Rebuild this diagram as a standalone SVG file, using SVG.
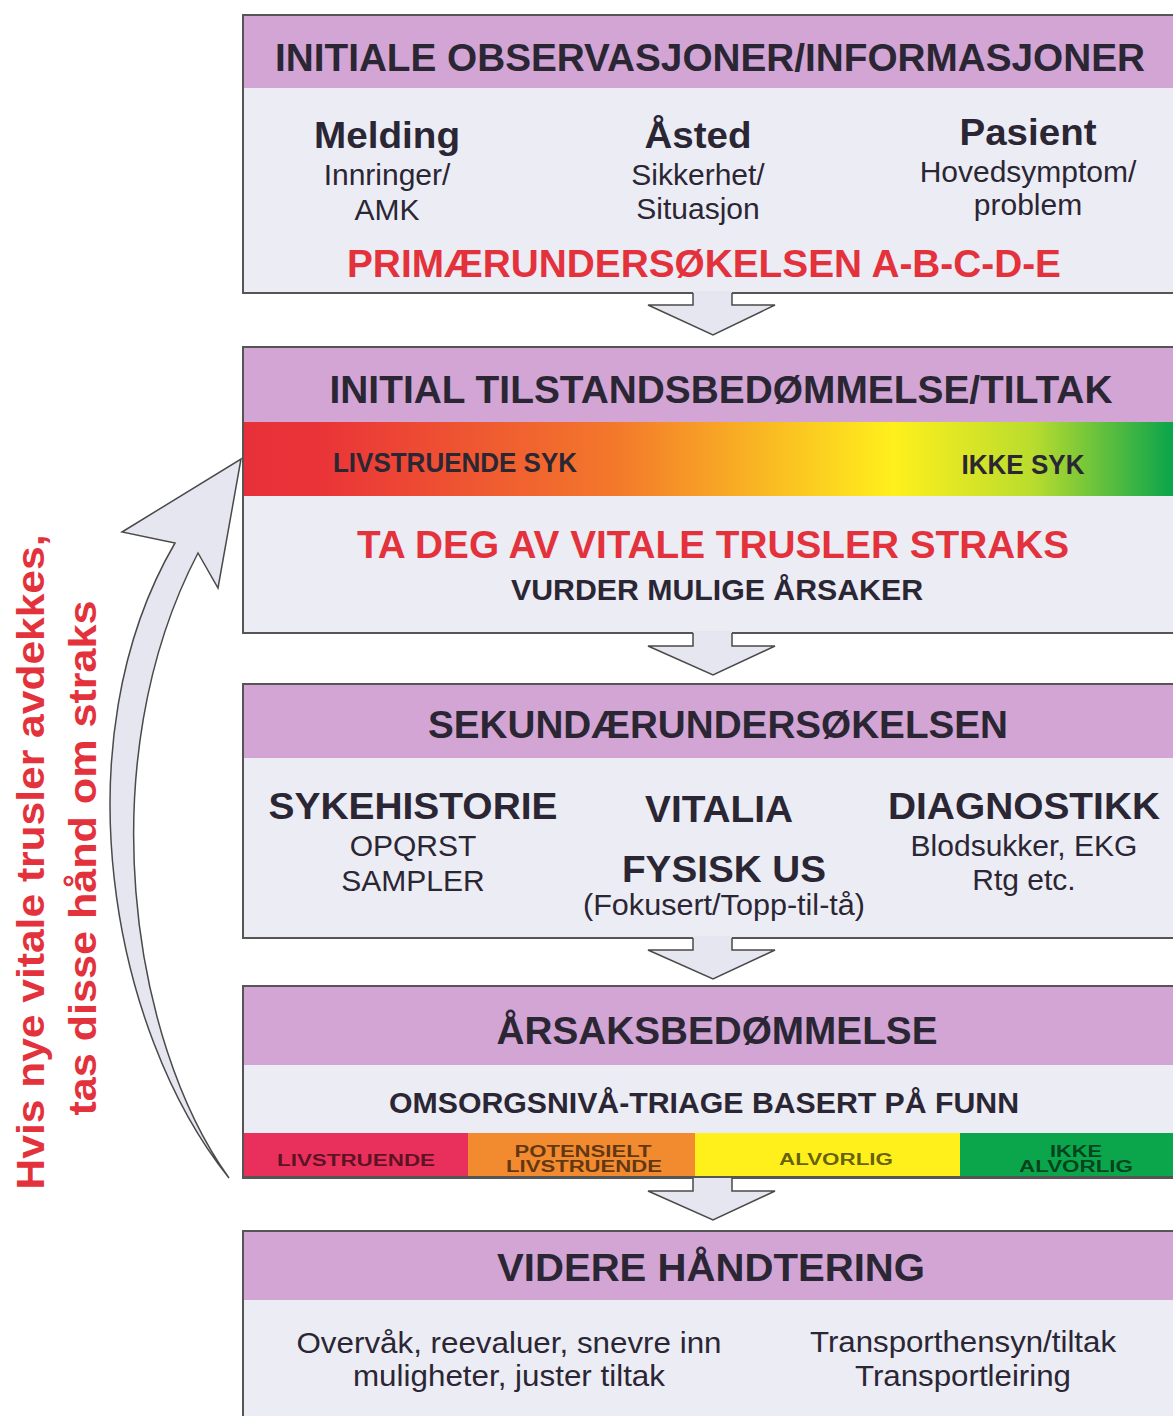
<svg xmlns="http://www.w3.org/2000/svg" width="1173" height="1416" viewBox="0 0 1173 1416">
<defs>
<style>
.box{fill:#ececf5;stroke:#555;stroke-width:2}
.hdr{fill:#d2a5d5}
.t{font-family:"Liberation Sans",Arial,sans-serif;fill:#2b2633;text-anchor:middle}
.b{font-weight:bold}
.h{font-size:38px;font-weight:bold}
.r{fill:#e3323c}
.n{font-size:30px}
.tri{font-size:16px;font-weight:bold;fill:#000;fill-opacity:0.62}
.arr{fill:#e6e6f0;stroke:#4a4a4a;stroke-width:1.5;stroke-linejoin:miter}
.side{font-family:"Liberation Sans",Arial,sans-serif;font-weight:bold;font-size:38px;fill:#e3323c;text-anchor:middle}
</style>
<linearGradient id="grad" x1="243" y1="0" x2="1173" y2="0" gradientUnits="userSpaceOnUse">
<stop offset="0" stop-color="#e8303a"/>
<stop offset="0.08" stop-color="#ea3338"/>
<stop offset="0.4" stop-color="#f3782b"/>
<stop offset="0.7" stop-color="#fff01c"/>
<stop offset="0.85" stop-color="#b9dc2e"/>
<stop offset="1" stop-color="#0aa44c"/>
</linearGradient>
</defs>

<g id="node-initiale">
<rect class="box" x="243" y="15" width="940" height="278"/>
<rect class="hdr" x="244" y="16" width="935" height="72"/>
<text class="t h" x="710" y="71" textLength="870" lengthAdjust="spacingAndGlyphs">INITIALE OBSERVASJONER/INFORMASJONER</text>
<text class="t b" x="387" y="148" font-size="36" textLength="146" lengthAdjust="spacingAndGlyphs">Melding</text>
<text class="t n" x="387" y="185">Innringer/</text>
<text class="t n" x="387" y="220">AMK</text>
<text class="t b" x="698" y="148" font-size="36" textLength="107" lengthAdjust="spacingAndGlyphs">Åsted</text>
<text class="t n" x="698" y="185">Sikkerhet/</text>
<text class="t n" x="698" y="219">Situasjon</text>
<text class="t b" x="1028" y="145" font-size="36" textLength="137" lengthAdjust="spacingAndGlyphs">Pasient</text>
<text class="t n" x="1028" y="182">Hovedsymptom/</text>
<text class="t n" x="1028" y="215">problem</text>
<text class="t b r" x="704" y="277" font-size="38" textLength="714" lengthAdjust="spacingAndGlyphs">PRIMÆRUNDERSØKELSEN A-B-C-D-E</text>
</g>

<g id="node-tilstand">
<rect class="box" x="243" y="347" width="940" height="286"/>
<rect class="hdr" x="244" y="348" width="935" height="74"/>
<text class="t h" x="721" y="403" textLength="783" lengthAdjust="spacingAndGlyphs">INITIAL TILSTANDSBEDØMMELSE/TILTAK</text>
<rect x="244" y="422" width="935" height="74" fill="url(#grad)"/>
<text class="t b" x="455" y="472" font-size="28" textLength="244" lengthAdjust="spacingAndGlyphs">LIVSTRUENDE SYK</text>
<text class="t b" x="1023" y="474" font-size="28" textLength="123" lengthAdjust="spacingAndGlyphs">IKKE SYK</text>
<text class="t b r" x="713" y="558" font-size="38" textLength="712" lengthAdjust="spacingAndGlyphs">TA DEG AV VITALE TRUSLER STRAKS</text>
<text class="t b" x="717" y="600" font-size="30" textLength="412" lengthAdjust="spacingAndGlyphs">VURDER MULIGE ÅRSAKER</text>
</g>

<g id="node-sekundaer">
<rect class="box" x="243" y="684" width="940" height="254"/>
<rect class="hdr" x="244" y="685" width="935" height="73"/>
<text class="t h" x="718" y="738" textLength="580" lengthAdjust="spacingAndGlyphs">SEKUNDÆRUNDERSØKELSEN</text>
<text class="t b" x="413" y="819" font-size="36" textLength="289" lengthAdjust="spacingAndGlyphs">SYKEHISTORIE</text>
<text class="t n" x="413" y="856">OPQRST</text>
<text class="t n" x="413" y="891">SAMPLER</text>
<text class="t b" x="719" y="822" font-size="36" textLength="148" lengthAdjust="spacingAndGlyphs">VITALIA</text>
<text class="t b" x="724" y="882" font-size="36" textLength="204" lengthAdjust="spacingAndGlyphs">FYSISK US</text>
<text class="t n" x="724" y="915" textLength="282" lengthAdjust="spacingAndGlyphs">(Fokusert/Topp-til-tå)</text>
<text class="t b" x="1024" y="819" font-size="36" textLength="272" lengthAdjust="spacingAndGlyphs">DIAGNOSTIKK</text>
<text class="t n" x="1024" y="856">Blodsukker, EKG</text>
<text class="t n" x="1024" y="890">Rtg etc.</text>
</g>

<g id="node-arsak">
<rect class="box" x="243" y="986" width="940" height="192"/>
<rect class="hdr" x="244" y="987" width="935" height="78"/>
<text class="t h" x="717" y="1044" textLength="441" lengthAdjust="spacingAndGlyphs">ÅRSAKSBEDØMMELSE</text>
<text class="t b" x="704" y="1113" font-size="29" textLength="630" lengthAdjust="spacingAndGlyphs">OMSORGSNIVÅ-TRIAGE BASERT PÅ FUNN</text>
<rect x="244" y="1133" width="224" height="44" fill="#e9305c"/>
<rect x="468" y="1133" width="227" height="44" fill="#f28a30"/>
<rect x="695" y="1133" width="265" height="44" fill="#fff01c"/>
<rect x="960" y="1133" width="220" height="44" fill="#0ba64c"/>
<line x1="243" y1="1177" x2="1180" y2="1177" stroke="#555" stroke-width="2"/>
<text class="t tri" x="356" y="1166" textLength="158" lengthAdjust="spacingAndGlyphs">LIVSTRUENDE</text>
<text class="t tri" x="583" y="1157" textLength="137" lengthAdjust="spacingAndGlyphs">POTENSIELT</text>
<text class="t tri" x="584" y="1172" textLength="156" lengthAdjust="spacingAndGlyphs">LIVSTRUENDE</text>
<text class="t tri" x="836" y="1165" textLength="114" lengthAdjust="spacingAndGlyphs">ALVORLIG</text>
<text class="t tri" x="1076" y="1157" textLength="52" lengthAdjust="spacingAndGlyphs">IKKE</text>
<text class="t tri" x="1076" y="1172" textLength="114" lengthAdjust="spacingAndGlyphs">ALVORLIG</text>
</g>

<g id="node-videre">
<rect class="box" x="243" y="1231" width="940" height="200"/>
<rect class="hdr" x="244" y="1232" width="935" height="68"/>
<text class="t h" x="711" y="1281" textLength="428" lengthAdjust="spacingAndGlyphs">VIDERE HÅNDTERING</text>
<text class="t n" x="509" y="1353" textLength="425" lengthAdjust="spacingAndGlyphs">Overvåk, reevaluer, snevre inn</text>
<text class="t n" x="509" y="1386" textLength="312" lengthAdjust="spacingAndGlyphs">muligheter, juster tiltak</text>
<text class="t n" x="963" y="1352" textLength="306" lengthAdjust="spacingAndGlyphs">Transporthensyn/tiltak</text>
<text class="t n" x="963" y="1386" textLength="216" lengthAdjust="spacingAndGlyphs">Transportleiring</text>
</g>

<g id="connectors">
<g id="arrow-1">
<polygon points="693,291 693,305 648,305 713,335 775,305 732,305 732,291" fill="#e6e6f0"/>
<polyline class="arr" fill="none" points="693,293 693,305 648,305 713,335 775,305 732,305 732,293"/>
</g>
<g id="arrow-2">
<polygon points="693,631 693,646 648,646 713,675 775,646 732,646 732,631" fill="#e6e6f0"/>
<polyline class="arr" fill="none" points="693,633 693,646 648,646 713,675 775,646 732,646 732,633"/>
</g>
<g id="arrow-3">
<polygon points="693,936 693,950 648,950 713,979 775,950 732,950 732,936" fill="#e6e6f0"/>
<polyline class="arr" fill="none" points="693,938 693,950 648,950 713,979 775,950 732,950 732,938"/>
</g>
<g id="arrow-4">
<polygon points="693,1178 693,1191 648,1191 713,1220 775,1191 732,1191 732,1178" fill="#e6e6f0"/>
<polyline class="arr" fill="none" points="693,1178 693,1191 648,1191 713,1220 775,1191 732,1191 732,1178"/>
</g>
<path id="arrow-loop" class="arr" d="M 229 1178 C 110 1030, 60 740, 175 543 L 122 532 L 241 459 L 218 588 L 198 553 C 90 760, 130 1040, 229 1178 Z"/>
</g>

<g id="side-label">
<text class="side" transform="translate(44,862) rotate(-90)" textLength="655" lengthAdjust="spacingAndGlyphs">Hvis nye vitale trusler avdekkes,</text>
<text class="side" transform="translate(96,858) rotate(-90)" textLength="515" lengthAdjust="spacingAndGlyphs">tas disse hånd om straks</text>
</g>
</svg>
